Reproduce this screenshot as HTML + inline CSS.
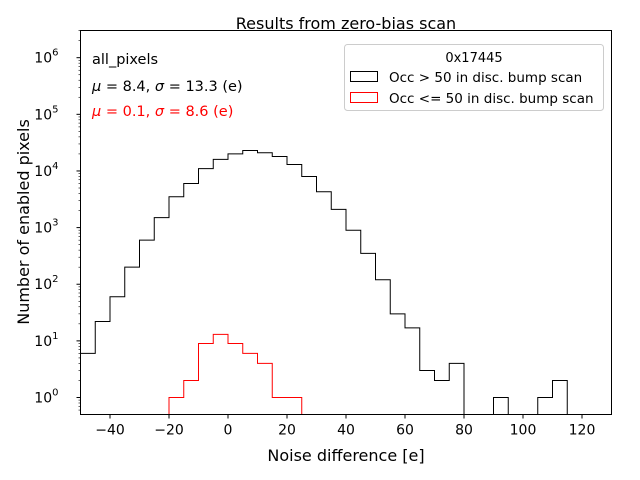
<!DOCTYPE html>
<html><head><meta charset="utf-8"><style>
body{margin:0;background:#fff}
svg{display:block;font-family:"DejaVu Sans","Liberation Sans",sans-serif}
</style></head><body>
<svg id="chart" width="640" height="480" viewBox="0 0 640 480">
<rect width="640" height="480" fill="#fff"/>
<text x="346" y="29" font-size="16" text-anchor="middle">Results from zero-bias scan</text>
<text x="346" y="461" font-size="16" text-anchor="middle">Noise difference [e]</text>
<text transform="translate(29,222) rotate(-90)" font-size="16" text-anchor="middle">Number of enabled pixels</text>
<g id="plot"></g>
<rect x="80.5" y="30.5" width="531" height="384" fill="none" stroke="#000" stroke-width="1"/>
<text x="92" y="64" font-size="14.5">all_pixels</text>
<text x="92" y="91" font-size="14.5"><tspan font-style="italic">μ</tspan> = 8.4, <tspan font-style="italic">σ</tspan> = 13.3 (e)</text>
<text x="92" y="116" font-size="14.5" fill="#ff0000"><tspan font-style="italic">μ</tspan> = 0.1, <tspan font-style="italic">σ</tspan> = 8.6 (e)</text>
<g>
<rect x="344.5" y="44.5" width="259" height="66" rx="3" fill="#fff" stroke="#ccc"/>
<text x="474" y="62" font-size="13" text-anchor="middle">0x17445</text>
<rect x="350.5" y="71.5" width="27" height="10" fill="none" stroke="#000"/>
<text x="389" y="82" font-size="13.5">Occ &gt; 50 in disc. bump scan</text>
<rect x="350.5" y="92.5" width="27" height="10" fill="none" stroke="#ff0000"/>
<text x="389" y="103" font-size="13.5">Occ &lt;= 50 in disc. bump scan</text>
</g>
</svg>
<script>
const binStart = -50, binWidth = 5;
const blackCounts = [6,22,60,200,600,1500,3500,6000,11000,16000,20000,23000,21000,18000,13000,8000,4300,2100,900,350,120,30,17,3,2,4,0,0,1,0,0,1,2,0];
const redStart = -20;
const redCounts = [1,2,9,13,9,6,4,1,1];
const xTicks = [-40,-20,0,20,40,60,80,100,120];
const yTickExps = [0,1,2,3,4,5,6];

const X0=80.5,X1=611.5,Y0=414.5,Y1=30.5,xmin=-50,xmax=130,lmin=-0.3,lmax=6.48;
const xs=v=>X0+(v-xmin)/(xmax-xmin)*(X1-X0);
const ys=c=>c<=0?Y0+5:Y0-(Math.log10(c)-lmin)/(lmax-lmin)*(Y0-Y1);
const NS="http://www.w3.org/2000/svg";
const plot=document.getElementById('plot');
const svg=document.getElementById('chart');
function mk(t,a,p){const e=document.createElementNS(NS,t);for(const k in a)e.setAttribute(k,a[k]);(p||plot).appendChild(e);return e;}

const clip=mk('clipPath',{id:'pc'});mk('rect',{x:X0,y:Y1,width:X1-X0,height:Y0-Y1},clip);

function hist(start,counts,color,name){
  let d='M'+xs(start)+','+(Y0+5);
  counts.forEach((c,i)=>{const a=start+i*binWidth,b=a+binWidth;d+=' L'+xs(a)+','+ys(c)+' L'+xs(b)+','+ys(c);});
  d+=' L'+xs(start+counts.length*binWidth)+','+(Y0+5);
  const p=mk('path',{d:d,fill:'none',stroke:color,'stroke-width':1,'clip-path':'url(#pc)'});
  
  
}
hist(binStart,blackCounts,'#000','histogram-occ-gt-50');
hist(redStart,redCounts,'#ff0000','histogram-occ-le-50');

xTicks.forEach(v=>{
  const x=xs(v);
  mk('line',{x1:x,x2:x,y1:Y0,y2:Y0+4,stroke:'#000'},svg);
  const t=mk('text',{x:x,y:Y0+20,'font-size':14,'text-anchor':'middle'},svg);
  t.textContent=(v<0?'\u2212':'')+Math.abs(v);
  
  
});
yTickExps.forEach(e=>{
  const y=ys(Math.pow(10,e));
  mk('line',{x1:X0-4,x2:X0,y1:y,y2:y,stroke:'#000'},svg);
  const t=mk('text',{x:X0-22,y:y+5,'font-size':14,'text-anchor':'end'},svg);
  t.textContent='10';
  const s=mk('tspan',{dy:-7,'font-size':10},t);s.textContent=e;
  
  
  for(let m=2;m<10;m++){const yy=ys(m*Math.pow(10,e));if(yy>Y1&&yy<Y0)mk('line',{x1:X0-2,x2:X0,y1:yy,y2:yy,stroke:'#000','stroke-width':0.6},svg);}
});
for(let m=5;m<10;m++){const yy=ys(m*0.1);if(yy<Y0)mk('line',{x1:X0-2,x2:X0,y1:yy,y2:yy,stroke:'#000','stroke-width':0.6},svg);}
</script>
</body></html>
